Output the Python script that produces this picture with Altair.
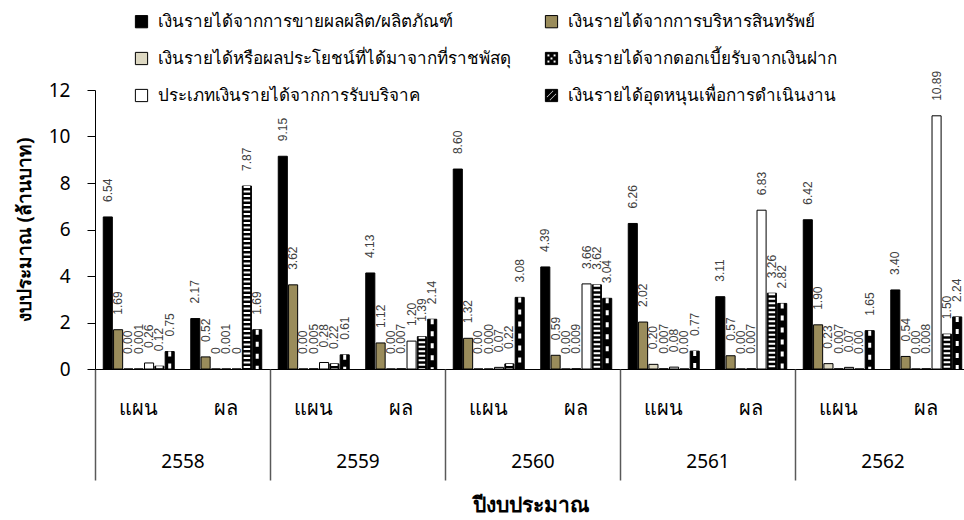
import altair as alt
import pandas as pd

# Fiscal years and the plan / actual split inside each year
years = ["2558", "2559", "2560", "2561", "2562"]
kinds = ["แผน", "ผล"]

# Revenue categories, in bar order within each group
s_sales = "เงินรายได้จากการขายผลผลิต/ผลิตภัณฑ์"
s_asset = "เงินรายได้จากการบริหารสินทรัพย์"
s_land = "เงินรายได้หรือผลประโยชน์ที่ได้มาจากที่ราชพัสดุ"
s_other = "เงินรายได้อื่นๆ"
s_donate = "ประเภทเงินรายได้จากการรับบริจาค"
s_interest = "เงินรายได้จากดอกเบี้ยรับจากเงินฝาก"
s_subsidy = "เงินรายได้อุดหนุนเพื่อการดำเนินงาน"
series = [s_sales, s_asset, s_land, s_other, s_donate, s_interest, s_subsidy]
# Legend fills column by column: left column first, then right column
legend_order = [s_sales, s_land, s_donate, s_asset, s_interest, s_subsidy]

# Million baht, ordered 2558 plan, 2558 actual, 2559 plan, ... 2562 actual
sales = ["6.54", "2.17", "9.15", "4.13", "8.60", "4.39", "6.26", "3.11", "6.42", "3.40"]
asset = ["1.69", "0.52", "3.62", "1.12", "1.32", "0.59", "2.02", "0.57", "1.90", "0.54"]
land = ["0.00", "0", "0.00", "0.00", "0.00", "0.00", "0.20", "0.00", "0.23", "0.00"]
other = ["0.001", "0.001", "0.005", "0.007", "0.000", "0.009", "0.007", "0.007", "0.007", "0.008"]
donate = ["0.26", "0", "0.28", "1.20", "0.07", "3.66", "0.08", "6.83", "0.07", "10.89"]
interest = ["0.12", "7.87", "0.22", "1.39", "0.22", "3.62", "0.00", "3.26", "0.00", "1.50"]
subsidy = ["0.75", "1.69", "0.61", "2.14", "3.08", "3.04", "0.77", "2.82", "1.65", "2.24"]
values = [sales, asset, land, other, donate, interest, subsidy]

fills = ["#000000", "#9a8c5b", "#ddd8c2", "#000000", "#ffffff", "#000000", "#000000"]

groups = [f"{y}|{k}" for y in years for k in kinds]
rows = []
for name, vals in zip(series, values):
    for g, lab in zip(groups, vals):
        rows.append({"grp": g, "series": name, "lab": lab, "v": float(lab)})
df = pd.DataFrame(rows)

FONT = "Tahoma, 'Noto Sans', sans-serif"
RANGE_X = [0, 875]

x_enc = alt.X(
    "grp:N",
    scale=alt.Scale(domain=groups, range=RANGE_X, paddingInner=0, paddingOuter=0),
    axis=alt.Axis(
        labelExpr="split(datum.label, '|')[1]",
        ticks=False,
        labelAngle=0,
        labelPadding=29,
        labelFontSize=20,
        labelColor="#000000",
        domainColor="#000000",
        domainWidth=1,
        title=None,
    ),
)
xo_enc = alt.XOffset(
    "series:N", scale=alt.Scale(domain=series, paddingInner=0.12, paddingOuter=0.8)
)
y_enc = alt.Y(
    "v:Q",
    scale=alt.Scale(domain=[0, 12]),
    axis=alt.Axis(
        values=[0, 2, 4, 6, 8, 10, 12],
        grid=False,
        tickSize=8,
        tickColor="#000000",
        domainColor="#000000",
        labelFontSize=19,
        labelColor="#000000",
        labelPadding=17,
        title="งบประมาณ (ล้านบาท)",
        titleFontSize=19,
        titleFontWeight="bold",
        titleColor="#000000",
        titleX=-71,
        titleY=139.5,
        titleAlign="center",
        titleBaseline="middle",
    ),
)

# Legend symbols: plain squares, plus hole-punched squares for the patterned series
hatch_path = (
    "M-1,-1H1V1H-1Z"
    "M-0.8,0.5L0.5,-0.8L0.2,-0.8L-0.8,0.2Z"
    "M-0.2,0.8L0.8,-0.2L0.8,-0.5L-0.5,0.8Z"
)
dots = ""
for cx, cy in [(-0.5, -0.5), (0.5, -0.5), (0, 0), (-0.5, 0.5), (0.5, 0.5)]:
    h = 0.24
    dots += f"M{cx-h},{cy-h}L{cx-h},{cy+h}L{cx+h},{cy+h}L{cx+h},{cy-h}Z"
dots_path = "M-1,-1H1V1H-1Z" + dots
symbol_expr = (
    f"datum.value === '{s_interest}' ? '{dots_path}' : "
    f"datum.value === '{s_subsidy}' ? '{hatch_path}' : 'square'"
)

color_enc = alt.Color(
    "series:N",
    scale=alt.Scale(domain=series, range=fills),
    legend=alt.Legend(
        values=legend_order,
        title=None,
        orient="none",
        legendX=38,
        legendY=-77,
        columns=2,
        columnPadding=32,
        rowPadding=19,
        symbolType=alt.ExprRef(expr=symbol_expr),
        symbolSize=150,
        symbolStrokeColor="#000000",
        symbolStrokeWidth=1,
        labelFontSize=17,
        labelColor="#000000",
        labelLimit=500,
        labelOffset=8,
    ),
)

base = alt.Chart(df)

bars = base.mark_bar(stroke="#000000", strokeWidth=1).encode(
    x=x_enc, xOffset=xo_enc, y=y_enc, color=color_enc
)

# White dashes over the black bars give the two patterned fills
dotted = (
    base.transform_filter(alt.datum.series == s_interest)
    .mark_rule(color="#ffffff", strokeWidth=6.5, strokeDash=[2, 2.5])
    .encode(x=x_enc, xOffset=xo_enc, y=y_enc, y2=alt.datum(0))
)
hatched = (
    base.transform_filter(alt.datum.series == s_subsidy)
    .mark_rule(color="#ffffff", strokeWidth=3, strokeDash=[5, 7])
    .encode(x=x_enc, xOffset=xo_enc, y=y_enc, y2=alt.datum(0))
)

labels = base.mark_text(
    angle=270, align="left", baseline="middle", dx=15, fontSize=12,
    font="'Liberation Sans', Arial, sans-serif", color="#404040",
).encode(x=x_enc, xOffset=xo_enc, y=y_enc, text="lab:N")

# Year row below the plan/actual labels, with separators between years
year_df = pd.DataFrame({"year": years})
year_axis = alt.Chart(year_df).mark_point(opacity=0).encode(
    x=alt.X(
        "year:N",
        scale=alt.Scale(domain=years, range=RANGE_X, paddingInner=0, paddingOuter=0),
        axis=alt.Axis(
            orient="bottom",
            tickBand="extent",
            tickSize=111,
            tickColor="#595959",
            tickWidth=1.5,
            domain=False,
            labelPadding=-28,
            labelFontSize=19,
            labelColor="#000000",
            labelAngle=0,
            title="ปีงบประมาณ",
            titleFontSize=21,
            titleFontWeight="bold",
            titleColor="#000000",
            titleX=435,
            titleY=136,
            titleBaseline="middle",
        ),
    ),
    y=alt.value(0),
)

plot = alt.layer(bars, dotted, hatched, labels)

chart = (
    alt.layer(plot, year_axis)
    .resolve_scale(x="independent")
    .properties(
        width=869,
        height=279,
        autosize=alt.AutoSizeParams(type="none"),
        padding={"left": 95, "top": 90, "right": 0, "bottom": 151},
    )
    .configure(font=FONT)
    .configure_view(stroke=None)
)

chart.save("out.html", embed_options={"renderer": "svg", "actions": False})
